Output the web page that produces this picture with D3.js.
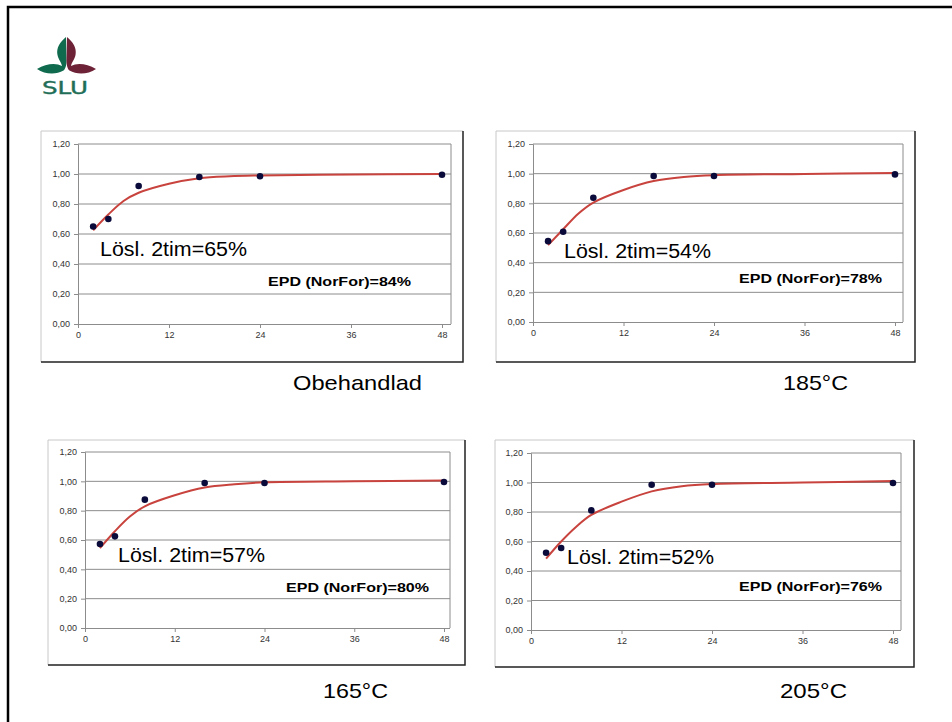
<!DOCTYPE html>
<html>
<head>
<meta charset="utf-8">
<script src="https://cdn.jsdelivr.net/npm/d3@7"></script>
<style>
  body { margin: 0; background: #fff; }
  svg { display: block; font-family: "Liberation Sans", Arial, sans-serif; }
</style>
</head>
<body>
<div id="canvas"></div>
<script>
// sampling times (h)
const times = [2, 4, 8, 16, 24, 48];
const fitTimes = [2, 4, 6, 8, 12, 16, 20, 24, 36, 48];
const xTicks = [0, 12, 24, 36, 48];
const yTicks = [0, 0.2, 0.4, 0.6, 0.8, 1.0, 1.2];

const obehandladPts = [0.65, 0.70, 0.92, 0.98, 0.985, 0.995];
const c185Pts = [0.545, 0.608, 0.838, 0.984, 0.984, 0.995];
const c165Pts = [0.573, 0.625, 0.875, 0.989, 0.989, 0.995];
const c205Pts = [0.524, 0.556, 0.811, 0.985, 0.985, 0.997];

// fitted curve at fitTimes
const obehandladFit = [0.625, 0.73, 0.82, 0.875, 0.935, 0.972, 0.985, 0.99, 0.997, 1.0];
const c185Fit = [0.518, 0.625, 0.73, 0.805, 0.89, 0.95, 0.978, 0.99, 0.998, 1.005];
const c165Fit = [0.545, 0.66, 0.76, 0.83, 0.905, 0.958, 0.98, 0.993, 1.0, 1.005];
const c205Fit = [0.484, 0.60, 0.70, 0.78, 0.87, 0.94, 0.975, 0.99, 1.0, 1.01];

const captions = ["Obehandlad", "185°C", "165°C", "205°C"];
const loslLabels = ["Lösl. 2tim=65%", "Lösl. 2tim=54%", "Lösl. 2tim=57%", "Lösl. 2tim=52%"];
const epdLabels = ["EPD (NorFor)=84%", "EPD (NorFor)=78%", "EPD (NorFor)=80%", "EPD (NorFor)=76%"];

class Panel{
    constructor(cfg, pts, fit, caption, losl, epd){
        this.cfg = cfg;
        this.pts = pts;
        this.fit = fit;
        this.caption = caption;
        this.losl = losl;
        this.epd = epd;
        this.x = d3.scaleLinear().domain([0, 48]).range([cfg.px0, cfg.px48]);
        this.y = d3.scaleLinear().domain([0, 1.2]).range([cfg.py0, cfg.py12]);
    }

    draw(svg){
        let c = this.cfg;
        let g = svg.append("g");

        // chart frame: light top/left, dark bottom/right
        g.append("rect")
            .attr("x", c.fx0).attr("y", c.fy0)
            .attr("width", c.fx1 - c.fx0).attr("height", c.fy1 - c.fy0)
            .attr("fill", "#fff");
        g.append("path")
            .attr("d", `M${c.fx0},${c.fy1} V${c.fy0} H${c.fx1}`)
            .attr("fill", "none").attr("stroke", "#c8c8c8").attr("stroke-width", 1);
        g.append("path")
            .attr("d", `M${c.fx1},${c.fy0} V${c.fy1} H${c.fx0}`)
            .attr("fill", "none").attr("stroke", "#222").attr("stroke-width", 1.5);

        // gridlines
        g.selectAll(".grid").data(yTicks.slice(1)).enter().append("line")
            .attr("x1", c.px0).attr("x2", c.pRight)
            .attr("y1", d => this.y(d)).attr("y2", d => this.y(d))
            .attr("stroke", "#8c8c8c").attr("stroke-width", 1);
        g.append("line")
            .attr("x1", c.pRight).attr("x2", c.pRight)
            .attr("y1", this.y(1.2)).attr("y2", this.y(0))
            .attr("stroke", "#8c8c8c").attr("stroke-width", 1);

        let fmt = d => d3.format(".2f")(d).replace(".", ",");
        let yAxis = d3.axisLeft(this.y).tickValues(yTicks).tickSize(4).tickPadding(4).tickFormat(fmt);
        let xAxis = d3.axisBottom(this.x).tickValues(xTicks).tickSize(4).tickPadding(4);

        let ya = g.append("g").attr("transform", `translate(${c.px0},0)`).call(yAxis);
        let xa = g.append("g").attr("transform", `translate(0,${c.py0})`).call(xAxis);
        xa.select(".domain").attr("d", `M${c.px0},0.5 H${c.pRight}`);
        [ya, xa].forEach(a => {
            a.select(".domain").attr("stroke", "#8c8c8c");
            a.selectAll(".tick line").attr("stroke", "#8c8c8c");
            a.selectAll(".tick text")
                .attr("fill", "#333")
                .style("font-size", "9px")
                .style("font-family", "'Liberation Sans', Arial, sans-serif");
        });

        // fitted curve
        let line = d3.line()
            .x(d => this.x(d[0]))
            .y(d => this.y(d[1]))
            .curve(d3.curveCatmullRom.alpha(0.5));
        g.append("path")
            .attr("d", line(fitTimes.map((t, i) => [t, this.fit[i]])))
            .attr("fill", "none")
            .attr("stroke", "#c8433d")
            .attr("stroke-width", 2);

        // measured points
        g.selectAll(".pt").data(times.map((t, i) => [t, this.pts[i]])).enter().append("circle")
            .attr("cx", d => this.x(d[0]))
            .attr("cy", d => this.y(d[1]))
            .attr("r", 3.3)
            .attr("fill", "#0b0b3b");

        g.append("text")
            .attr("x", c.lx).attr("y", c.ly)
            .attr("textLength", 147).attr("lengthAdjust", "spacingAndGlyphs")
            .style("font-size", "20px")
            .text(this.losl);
        g.append("text")
            .attr("x", c.ex).attr("y", c.ey)
            .attr("textLength", 143).attr("lengthAdjust", "spacingAndGlyphs")
            .style("font-size", "13px").style("font-weight", "bold")
            .text(this.epd);

        svg.append("text")
            .attr("x", c.cx).attr("y", c.cy)
            .attr("textLength", c.cw).attr("lengthAdjust", "spacingAndGlyphs")
            .style("font-size", "21px")
            .text(this.caption);
    }
}

function drawLogo(svg){
    let g = svg.append("g");
    let half = "M66,37 C60,42 56,48 57.5,55 C58.5,60 61.5,62.5 62,66 C56,62.5 46,63.5 37,69 C45,74.5 56,75 63.5,70.5 C66,68.5 66.5,64 66.5,60 Z";
    g.append("path").attr("d", half).attr("fill", "#0f6a4e");
    g.append("path").attr("d", half).attr("fill", "#6e2238")
        .attr("transform", "translate(133,0) scale(-1,1)");
    g.append("text")
        .attr("x", 42).attr("y", 94)
        .attr("textLength", 46).attr("lengthAdjust", "spacingAndGlyphs")
        .attr("fill", "#1f6e57")
        .attr("stroke", "#1f6e57").attr("stroke-width", 0.4)
        .style("font-family", "'DejaVu Sans', sans-serif")
        .style("font-size", "18px")
        .text("SLU");
}

const layouts = [
    {fx0: 41, fy0: 131, fx1: 463, fy1: 362, px0: 78, px48: 442, pRight: 451, py0: 324, py12: 144,
     lx: 100, ly: 256, ex: 268, ey: 286, cx: 293, cy: 390, cw: 129},
    {fx0: 496, fy0: 131, fx1: 915, fy1: 362, px0: 533, px48: 895, pRight: 903, py0: 322, py12: 144,
     lx: 564, ly: 258, ex: 739, ey: 283, cx: 783, cy: 390, cw: 65},
    {fx0: 48, fy0: 440, fx1: 465, fy1: 665, px0: 85, px48: 444, pRight: 450, py0: 628, py12: 452,
     lx: 118, ly: 562, ex: 286, ey: 592, cx: 323, cy: 698, cw: 65},
    {fx0: 495, fy0: 440, fx1: 914, fy1: 667, px0: 531, px48: 893, pRight: 901, py0: 630, py12: 453,
     lx: 567, ly: 564, ex: 739, ey: 591, cx: 780, cy: 698, cw: 67}
];

const svg = d3.select("#canvas").append("svg")
    .attr("width", 952).attr("height", 722)
    .attr("viewBox", [0, 0, 952, 722]);

svg.append("rect").attr("width", 952).attr("height", 722).attr("fill", "#fff");
// slide border
svg.append("path")
    .attr("d", "M8,722 V7 H952")
    .attr("fill", "none").attr("stroke", "#000").attr("stroke-width", 2.5);

drawLogo(svg);

const series = [
    [obehandladPts, obehandladFit],
    [c185Pts, c185Fit],
    [c165Pts, c165Fit],
    [c205Pts, c205Fit]
];

for(let i = 0; i < 4; i++){
    let p = new Panel(layouts[i], series[i][0], series[i][1], captions[i], loslLabels[i], epdLabels[i]);
    p.draw(svg);
}
</script>
</body>
</html>
